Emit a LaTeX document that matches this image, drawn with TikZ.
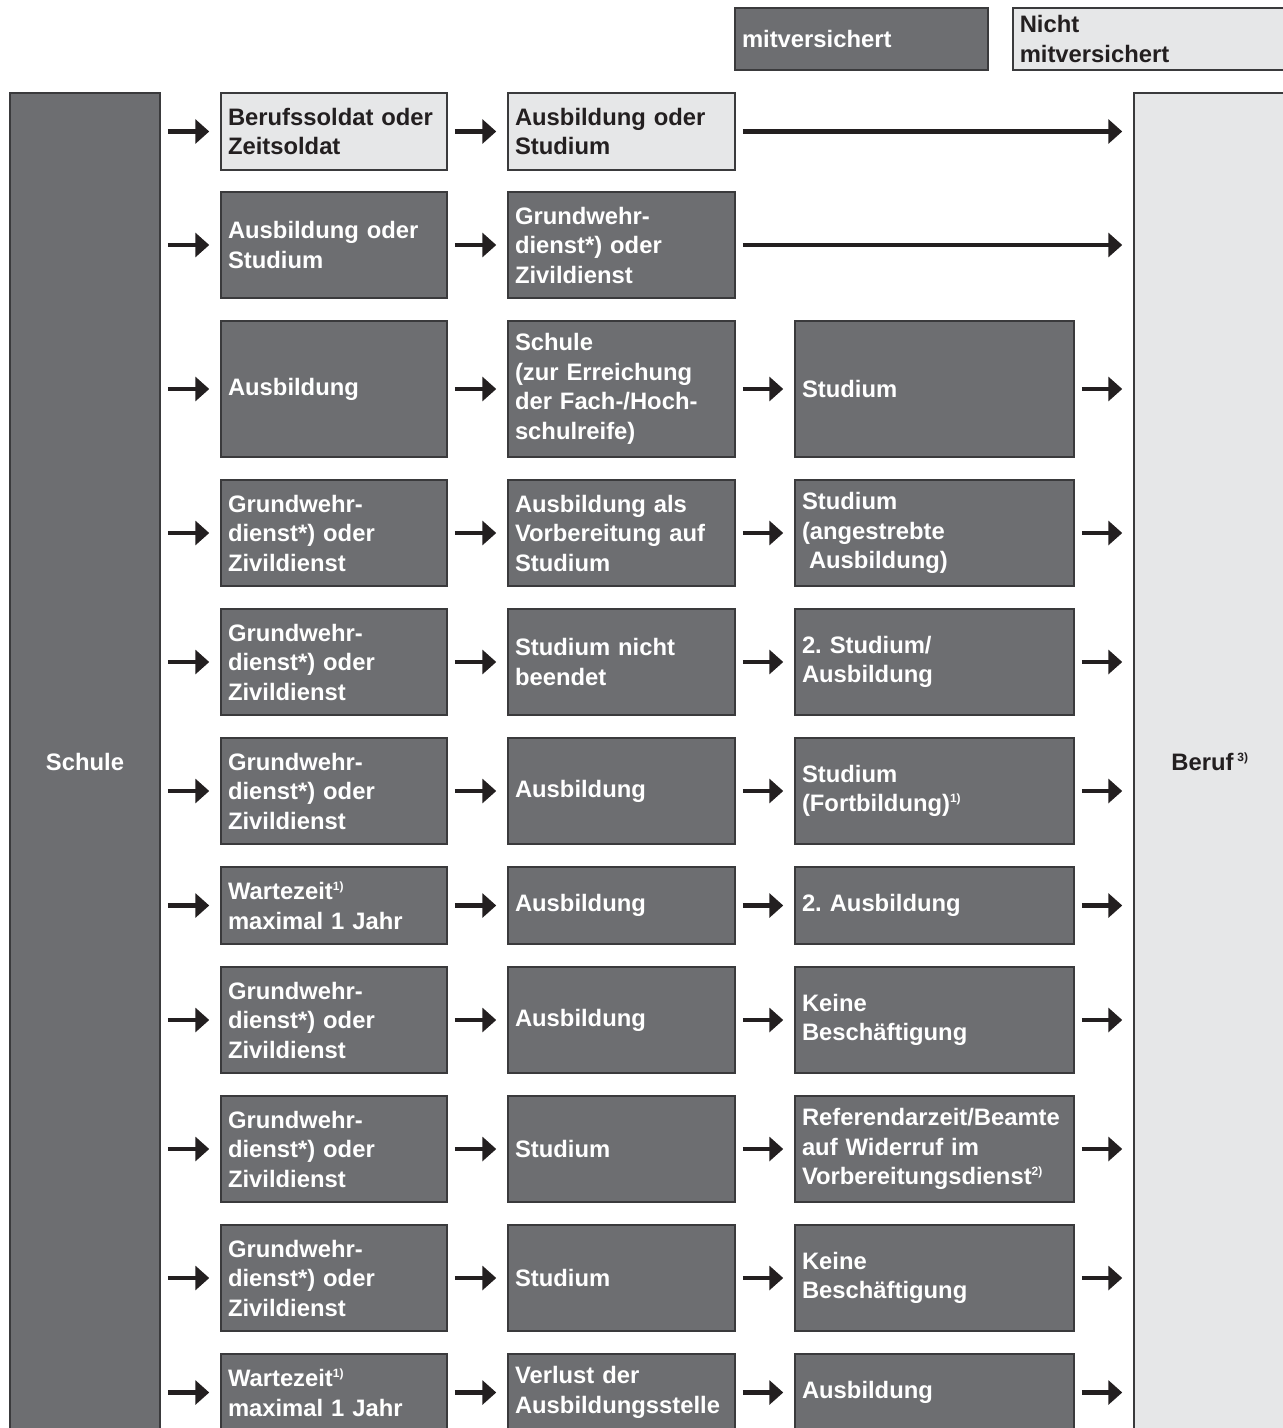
\documentclass[tikz,border=0pt]{standalone}
\usepackage{fontspec}
\setmainfont{Liberation Sans}
\usetikzlibrary{arrows.meta}

\definecolor{boxdark}{HTML}{6D6E71}
\definecolor{boxlight}{HTML}{E6E7E8}
\definecolor{linedark}{HTML}{3A3A3C}
\definecolor{ink}{HTML}{231F20}

\newcommand\fnote[1]{\textsuperscript{\fontsize{12}{12}\selectfont #1}}

\tikzset{
  dbox/.style={draw=linedark, fill=boxdark, text=white, line width=1.5pt,
    align=left, inner xsep=7pt, inner ysep=0pt,
    font=\frenchspacing\bfseries\fontsize{23.8}{29.5}\selectfont},
  lbox/.style={dbox, fill=boxlight, text=ink},
  colA/.style={text width=212pt},
  colB/.style={text width=213pt},
  colC/.style={text width=265pt},
  rowS/.style={minimum height=77pt},
  rowM/.style={minimum height=106pt},
  rowL/.style={minimum height=136pt},
  arr/.style={draw=ink, line width=4.5pt, shorten <=7pt, shorten >=11pt},
  flow/.style={every edge/.style={draw, arr, -{Triangle[length=14pt,width=24pt]}}}
}

\begin{document}
\begin{tikzpicture}[x=1pt,y=-1pt]
    \useasboundingbox (0,0) rectangle (1283,1428);
    \clip (0,0) rectangle (1283,1428);

    % legend
    \node[dbox, text width=239pt, minimum height=62pt] (mit) at (861.5,39) {mitversichert};
    \node[lbox, text width=264pt, minimum height=62pt, anchor=west] (nicht) at (1012,39) {Nicht\\mitversichert};

    % side columns
    \node[dbox, minimum width=150pt, minimum height=1338pt] (schule) at (85,762) {Schule};
    \node[lbox, minimum width=152pt, minimum height=1338pt] (beruf) at (1210,762) {Beruf\,\fnote{3)}};

    % row 1
    \node[lbox, colA, rowS] (a1) at (334,131.5) {Berufssoldat oder\\Zeitsoldat};
    \node[lbox, colB, rowS] (b1) at (621.5,131.5) {Ausbildung oder\\Studium};
    % row 2
    \node[dbox, colA, rowM] (a2) at (334,245) {Ausbildung oder\\Studium};
    \node[dbox, colB, rowM] (b2) at (621.5,245) {Grundwehr-\\dienst*) oder\\Zivildienst};
    % row 3
    \node[dbox, colA, rowL] (a3) at (334,389) {Ausbildung};
    \node[dbox, colB, rowL] (b3) at (621.5,389) {Schule\\(zur Erreichung\\der Fach-/Hoch-\\schulreife)};
    \node[dbox, colC, rowL] (c3) at (934.5,389) {Studium};
    % row 4
    \node[dbox, colA, rowM] (a4) at (334,533) {Grundwehr-\\dienst*) oder\\Zivildienst};
    \node[dbox, colB, rowM] (b4) at (621.5,533) {Ausbildung als\\Vorbereitung auf\\Studium};
    \node[dbox, colC, rowM] (c4) at (934.5,533) {Studium\\(angestrebte\\\hspace*{7pt}Ausbildung)};
    % row 5
    \node[dbox, colA, rowM] (a5) at (334,662) {Grundwehr-\\dienst*) oder\\Zivildienst};
    \node[dbox, colB, rowM] (b5) at (621.5,662) {Studium nicht\\beendet};
    \node[dbox, colC, rowM] (c5) at (934.5,662) {2. Studium/\\Ausbildung};
    % row 6
    \node[dbox, colA, rowM] (a6) at (334,791) {Grundwehr-\\dienst*) oder\\Zivildienst};
    \node[dbox, colB, rowM] (b6) at (621.5,791) {Ausbildung};
    \node[dbox, colC, rowM] (c6) at (934.5,791) {Studium\\(Fortbildung)\fnote{1)}};
    % row 7
    \node[dbox, colA, rowS] (a7) at (334,905.5) {Wartezeit\fnote{1)}\\maximal 1 Jahr};
    \node[dbox, colB, rowS] (b7) at (621.5,905.5) {Ausbildung};
    \node[dbox, colC, rowS] (c7) at (934.5,905.5) {2. Ausbildung};
    % row 8
    \node[dbox, colA, rowM] (a8) at (334,1020) {Grundwehr-\\dienst*) oder\\Zivildienst};
    \node[dbox, colB, rowM] (b8) at (621.5,1020) {Ausbildung};
    \node[dbox, colC, rowM] (c8) at (934.5,1020) {Keine\\Beschäftigung};
    % row 9
    \node[dbox, colA, rowM] (a9) at (334,1149) {Grundwehr-\\dienst*) oder\\Zivildienst};
    \node[dbox, colB, rowM] (b9) at (621.5,1149) {Studium};
    \node[dbox, colC, rowM] (c9) at (934.5,1149) {Referendarzeit/Beamte\\auf Widerruf im\\Vorbereitungsdienst\fnote{2)}};
    % row 10
    \node[dbox, colA, rowM] (a10) at (334,1278) {Grundwehr-\\dienst*) oder\\Zivildienst};
    \node[dbox, colB, rowM] (b10) at (621.5,1278) {Studium};
    \node[dbox, colC, rowM] (c10) at (934.5,1278) {Keine\\Beschäftigung};
    % row 11
    \node[dbox, colA, rowS] (a11) at (334,1392.5) {Wartezeit\fnote{1)}\\maximal 1 Jahr};
    \node[dbox, colB, rowS] (b11) at (621.5,1392.5) {Verlust der\\Ausbildungsstelle};
    \node[dbox, colC, rowS] (c11) at (934.5,1392.5) {Ausbildung};

    % arrows
    \path[flow] (a1 -| schule.east) edge (a1) (a1) edge (b1) (b1) edge (b1 -| beruf.west);
    \path[flow] (a2 -| schule.east) edge (a2) (a2) edge (b2) (b2) edge (b2 -| beruf.west);
    \path[flow] (a3 -| schule.east) edge (a3) (a3) edge (b3) (b3) edge (c3) (c3) edge (c3 -| beruf.west);
    \path[flow] (a4 -| schule.east) edge (a4) (a4) edge (b4) (b4) edge (c4) (c4) edge (c4 -| beruf.west);
    \path[flow] (a5 -| schule.east) edge (a5) (a5) edge (b5) (b5) edge (c5) (c5) edge (c5 -| beruf.west);
    \path[flow] (a6 -| schule.east) edge (a6) (a6) edge (b6) (b6) edge (c6) (c6) edge (c6 -| beruf.west);
    \path[flow] (a7 -| schule.east) edge (a7) (a7) edge (b7) (b7) edge (c7) (c7) edge (c7 -| beruf.west);
    \path[flow] (a8 -| schule.east) edge (a8) (a8) edge (b8) (b8) edge (c8) (c8) edge (c8 -| beruf.west);
    \path[flow] (a9 -| schule.east) edge (a9) (a9) edge (b9) (b9) edge (c9) (c9) edge (c9 -| beruf.west);
    \path[flow] (a10 -| schule.east) edge (a10) (a10) edge (b10) (b10) edge (c10) (c10) edge (c10 -| beruf.west);
    \path[flow] (a11 -| schule.east) edge (a11) (a11) edge (b11) (b11) edge (c11) (c11) edge (c11 -| beruf.west);
\end{tikzpicture}
\end{document}
